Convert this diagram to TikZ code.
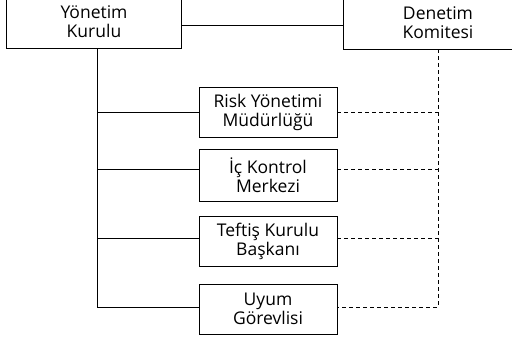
\documentclass[tikz,border=0pt]{standalone}
\usepackage{fontspec}
\setmainfont{Open Sans}
\usepackage{tikz}

\begin{document}
\begin{tikzpicture}[x=1pt,y=1pt,
  yazi/.style={align=center,inner sep=0pt,font=\fontsize{17.5}{19}\selectfont},
  kutu/.style={yazi,draw,line width=0.8pt},
  ust/.style={yazi,minimum height=52pt},
  alt/.style={kutu,minimum width=138pt,minimum height=50pt},
  cizgi/.style={line width=0.8pt},
  kesik/.style={line width=0.8pt,dash pattern=on 4pt off 3pt}]
\useasboundingbox (0,0) rectangle (512,-340);
\node[ust,minimum width=174pt] (yk) at (94,-22) {Yönetim\\Kurulu};
\node[ust,minimum width=188pt] (dk) at (438,-23) {Denetim\\Komitesi};
\draw[cizgi] ([yshift=10pt]yk.north west) rectangle (yk.south east);
\draw[cizgi] ([yshift=10pt]dk.north west) rectangle (dk.south east);
\node[alt] (risk) at (268,-112.5) {Risk Yönetimi\\Müdürlüğü};
\node[alt,minimum height=52pt] (ick) at (268,-175) {İç Kontrol\\Merkezi};
\node[alt] (teftis) at (268,-241.5) {Teftiş Kurulu\\Başkanı};
\node[alt] (uyum) at (268,-309) {Uyum\\Görevlisi};
\coordinate (govde) at (97,-48);
\coordinate (yk-sag) at ([yshift=-3pt]yk.east);
\coordinate (ick-sol) at ([yshift=6pt]ick.west);
\coordinate (ick-sag) at ([yshift=6pt]ick.east);
\coordinate (teftis-sol) at ([yshift=3.5pt]teftis.west);
\coordinate (teftis-sag) at ([yshift=3.5pt]teftis.east);
\coordinate (uyum-sol) at ([yshift=2pt]uyum.west);
\coordinate (uyum-sag) at ([yshift=2pt]uyum.east);
% duz cizgiler
\draw[cizgi] (yk-sag) -- (yk-sag -| dk.west);
\draw[cizgi] (govde) |- (uyum-sol);
\draw[cizgi] (govde |- risk.west) -- (risk.west);
\draw[cizgi] (govde |- ick-sol) -- (ick-sol);
\draw[cizgi] (govde |- teftis-sol) -- (teftis-sol);
% kesikli cizgiler
\draw[kesik] (dk.south) |- (uyum-sag);
\draw[kesik] (risk.east) -- (risk.east -| dk.south);
\draw[kesik] (ick-sag) -- (ick-sag -| dk.south);
\draw[kesik] (teftis-sag) -- (teftis-sag -| dk.south);
\end{tikzpicture}
\end{document}
